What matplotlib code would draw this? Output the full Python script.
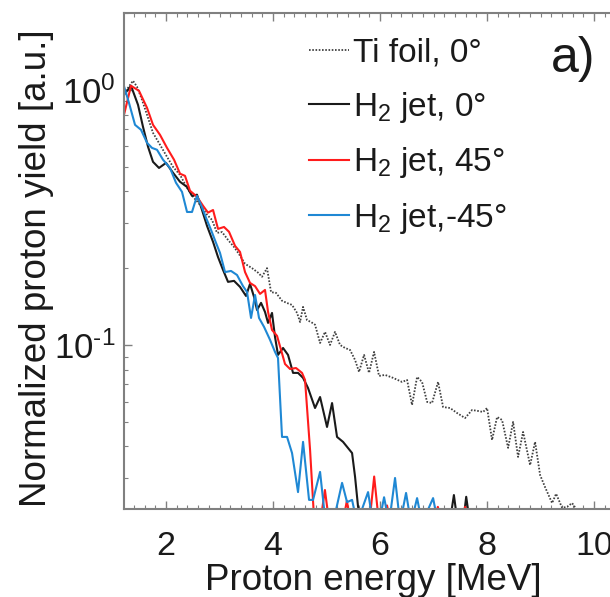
import matplotlib
matplotlib.use("Agg")
import matplotlib.pyplot as plt
from matplotlib.ticker import MultipleLocator, LogLocator, NullFormatter, FuncFormatter
import math

plt.rcParams['font.family'] = ['Liberation Sans', 'DejaVu Sans']
plt.rcParams['mathtext.fontset'] = 'custom'
plt.rcParams['mathtext.rm'] = 'Liberation Sans'
plt.rcParams['mathtext.it'] = 'Liberation Sans:italic'
plt.rcParams['mathtext.bf'] = 'Liberation Sans:bold'

# ---------------- data ----------------
ti_energy = [1.215, 1.290, 1.383, 1.458, 1.551, 1.645, 1.757, 1.888, 2.019, 2.131,
             2.262, 2.393, 2.505, 2.636, 2.766, 2.860, 2.953, 3.047, 3.159, 3.271,
             3.364, 3.477, 3.607, 3.720, 3.794, 3.888, 3.963, 4.056, 4.168, 4.262,
             4.355, 4.449, 4.505, 4.561, 4.636, 4.710, 4.785, 4.879, 4.972, 5.065,
             5.159, 5.252, 5.346, 5.439, 5.533, 5.607, 5.701, 5.794, 5.888, 5.981,
             6.093, 6.243, 6.411, 6.505, 6.598, 6.692, 6.785, 6.879, 6.972, 7.084,
             7.178, 7.308, 7.439, 7.589, 7.720, 7.832, 7.925, 8.000, 8.093, 8.187,
             8.280, 8.393, 8.486, 8.579, 8.673, 8.804, 8.897, 8.991, 9.084, 9.215,
             9.290, 9.402, 9.495, 9.589, 9.682, 9.832]
ti_yield = [0.965, 1.018, 1.085, 1.028, 0.914, 0.798, 0.678, 0.609, 0.546, 0.499,
            0.464, 0.413, 0.381, 0.354, 0.324, 0.309, 0.275, 0.277, 0.258, 0.242,
            0.227, 0.208, 0.200, 0.192, 0.185, 0.200, 0.161, 0.160, 0.149, 0.146,
            0.1435, 0.1335, 0.123, 0.141, 0.125, 0.123, 0.120, 0.1018, 0.1125, 0.100,
            0.1125, 0.100, 0.0973, 0.0956, 0.0873, 0.0784, 0.0914, 0.0777, 0.0939, 0.0756,
            0.0763, 0.0743, 0.0716, 0.0729, 0.0582, 0.0749, 0.0716, 0.0598, 0.0592, 0.0716,
            0.0571, 0.0566, 0.0541, 0.0517, 0.0556, 0.0551, 0.0546, 0.0566, 0.0424, 0.0522,
            0.0508, 0.0395, 0.0499, 0.0364, 0.0456, 0.0338, 0.0417, 0.0309, 0.0277, 0.0240,
            0.0261, 0.0230, 0.0232, 0.0240, 0.0225, 0.021]

jet0_energy = [1.215, 1.346, 1.477, 1.570, 1.664, 1.757, 1.869, 2.000, 2.131, 2.262,
               2.393, 2.486, 2.579, 2.673, 2.766, 2.879, 2.972, 3.065, 3.159, 3.271,
               3.383, 3.495, 3.570, 3.645, 3.701, 3.776, 3.850, 3.907, 3.981, 4.037,
               4.093, 4.187, 4.280, 4.374, 4.467, 4.561, 4.654, 4.785, 4.879, 5.009,
               5.103, 5.196, 5.308, 5.477, 5.533, 5.589, 5.645, 6.500, 7.300, 7.380,
               7.450, 7.550, 7.610, 7.680]
jet0_yield = [0.956, 1.037, 0.873, 0.716, 0.598, 0.522, 0.494, 0.517, 0.473, 0.436,
              0.416, 0.384, 0.388, 0.338, 0.293, 0.2535, 0.221, 0.197, 0.1767, 0.1783,
              0.1689, 0.1556, 0.1735, 0.1542, 0.1371, 0.1462, 0.1347, 0.122, 0.1335, 0.1075,
              0.0914, 0.0973, 0.0914, 0.0777, 0.0777, 0.0743, 0.0678, 0.0566, 0.0625, 0.0477,
              0.0592, 0.0436, 0.0417, 0.0377, 0.0304, 0.0232, 0.021, 0.020, 0.020, 0.0258,
              0.020, 0.020, 0.0254, 0.020]

jet45_energy = [1.215, 1.346, 1.495, 1.645, 1.757, 1.888, 2.019, 2.150, 2.262, 2.355,
                2.449, 2.579, 2.692, 2.785, 2.879, 2.972, 3.084, 3.178, 3.290, 3.383,
                3.477, 3.570, 3.664, 3.757, 3.850, 3.907, 3.981, 4.075, 4.150, 4.224,
                4.318, 4.430, 4.542, 4.598, 4.692, 4.766, 4.880, 4.970, 5.050, 5.300,
                5.380, 5.450, 5.800, 5.890, 5.980, 6.060, 6.130, 6.200, 7.000, 7.080,
                7.160, 7.510, 7.590, 7.700]
jet45_yield = [0.798, 1.037, 0.991, 0.850, 0.729, 0.666, 0.592, 0.532, 0.469, 0.460,
               0.402, 0.381, 0.351, 0.330, 0.338, 0.285, 0.290, 0.2775, 0.2445, 0.2315,
               0.193, 0.175, 0.170, 0.1585, 0.1643, 0.1347, 0.1145, 0.1085, 0.0956, 0.0842,
               0.0805, 0.0812, 0.0777, 0.0729, 0.0388, 0.021, 0.020, 0.027, 0.020, 0.020,
               0.0245, 0.020, 0.020, 0.0305, 0.020, 0.020, 0.0235, 0.020, 0.020, 0.0232,
               0.020, 0.020, 0.0232, 0.020]

jetm45_energy = [1.196, 1.308, 1.421, 1.533, 1.645, 1.738, 1.832, 1.944, 2.075, 2.187,
                 2.299, 2.393, 2.486, 2.579, 2.654, 2.748, 2.841, 2.935, 3.009, 3.103,
                 3.215, 3.327, 3.439, 3.514, 3.589, 3.664, 3.738, 3.832, 3.944, 4.037,
                 4.093, 4.168, 4.262, 4.355, 4.467, 4.561, 4.673, 4.748, 4.879, 4.972,
                 5.121, 5.290, 5.383, 5.477, 5.570, 5.776, 5.869, 5.981, 6.075, 6.168,
                 6.280, 6.374, 6.486, 6.579, 6.692, 6.785, 6.991, 7.084, 7.600]
jetm45_yield = [1.065, 0.889, 0.729, 0.697, 0.620, 0.592, 0.582, 0.532, 0.494, 0.432,
                0.398, 0.332, 0.332, 0.384, 0.354, 0.315, 0.2825, 0.251, 0.2295, 0.193,
                0.195, 0.188, 0.170, 0.1613, 0.1276, 0.157, 0.1276, 0.1177, 0.1047, 0.0939,
                0.0889, 0.0436, 0.0436, 0.0377, 0.0265, 0.0417, 0.0247, 0.0247, 0.0318, 0.021,
                0.020, 0.0288, 0.0242, 0.0247, 0.020, 0.0265, 0.020, 0.020, 0.0253, 0.020,
                0.0301, 0.020, 0.0263, 0.020, 0.0251, 0.020, 0.0251, 0.020, 0.020]

labels = ['Ti foil, 0°', 'H$_2$ jet, 0°', 'H$_2$ jet, 45°', 'H$_2$ jet,-45°']
x_label = 'Proton energy [MeV]'
y_label = 'Normalized proton yield [a.u.]'

# ---------------- figure ----------------
W, H = 610, 597
fig = plt.figure(figsize=(W / 100, H / 100), dpi=100)
ax = fig.add_axes([124 / W, 88 / H, 499 / W, 496 / H])

ax.plot(ti_energy, ti_yield, color='#404040', lw=1.3, linestyle=(0, (0.9, 0.9)), label=labels[0])
ax.plot(jet0_energy, jet0_yield, color='#1a1a1a', lw=1.5, label=labels[1])
ax.plot(jet45_energy, jet45_yield, color='#ff1c1c', lw=1.5, label=labels[2])
ax.plot(jetm45_energy, jetm45_yield, color='#1f88d4', lw=1.5, label=labels[3])

ax.set_yscale('log')
ax.set_xlim(1.215, 10.54)
ax.set_ylim(0.02275, 2.0)

ax.xaxis.set_major_locator(MultipleLocator(2))
ax.xaxis.set_minor_locator(MultipleLocator(0.2))
ax.yaxis.set_major_locator(LogLocator(base=10))
ax.yaxis.set_minor_locator(LogLocator(base=10, subs=range(2, 10)))
ax.yaxis.set_minor_formatter(NullFormatter())


def pow_fmt(v, pos):
    e = int(round(math.log10(v)))
    es = str(e).replace('-', '\u2010')
    return '10$^{\\mathregular{' + es + '}}$'


ax.yaxis.set_major_formatter(FuncFormatter(pow_fmt))

spine_col = '#808080'
for s in ax.spines.values():
    s.set_color(spine_col)
    s.set_linewidth(1.5)
ax.tick_params(which='both', direction='in', top=True, right=True, color=spine_col,
               labelcolor='#1a1a1a')
ax.tick_params(which='major', length=6, width=1.0)
ax.tick_params(which='minor', length=3, width=0.8)
ax.tick_params(axis='x', which='major', labelsize=24.5, pad=16)
ax.tick_params(axis='y', which='major', labelsize=25, pad=6)

ax.set_xlabel(x_label, fontsize=26.5, va='baseline', color='#1a1a1a')
ax.xaxis.set_label_coords(0.5, -0.163)
ax.set_ylabel(y_label, fontsize=26.5, color='#1a1a1a')
ax.yaxis.set_label_coords(-0.140, 0.486)

leg = ax.legend(loc='upper left', bbox_to_anchor=(309 / W, 1 - 38 / H),
                bbox_transform=fig.transFigure, frameon=False, fontsize=24,
                handlelength=1.2, handletextpad=0.12, borderpad=0,
                borderaxespad=0, labelspacing=0.62)
for t in leg.get_texts():
    t.set_color('#1a1a1a')

fig.text(551 / W, 1 - 72 / H, 'a)', fontsize=36, va='baseline', ha='left', color='#1a1a1a')

fig.savefig('out.png', dpi=100)
